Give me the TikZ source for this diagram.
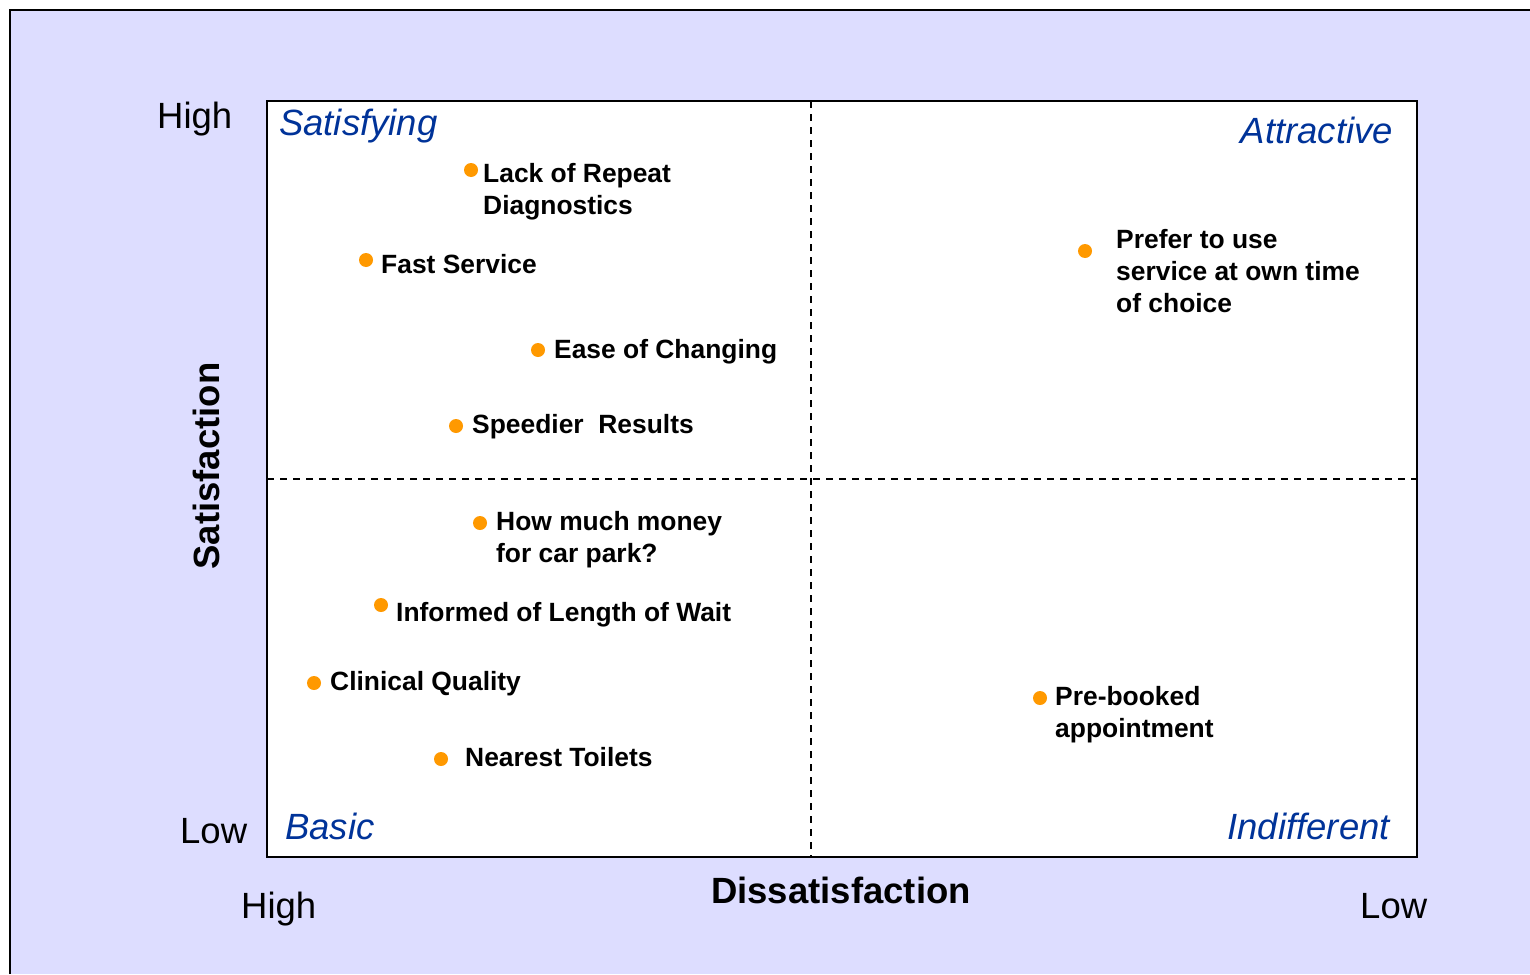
\documentclass[tikz,border=0pt]{standalone}
\usepackage{fontspec}
\setmainfont{Liberation Sans}
\definecolor{lav}{RGB}{221,221,255}
\definecolor{qblue}{RGB}{0,51,153}
\definecolor{dotor}{RGB}{255,153,0}
\begin{document}
\begin{tikzpicture}[x=1pt,y=-1pt,
  item/.style={anchor=base west,inner sep=0pt,align=left,font=\fontsize{26.4}{32}\selectfont\bfseries},
  dot/.style={circle,fill=dotor,minimum size=14pt,inner sep=0pt},
  quad/.style={inner sep=0pt,text=qblue,font=\fontsize{36.5}{40}\selectfont\itshape},
  axlbl/.style={inner sep=0pt,font=\fontsize{36.5}{40}\selectfont},
  axtitle/.style={inner sep=0pt,font=\fontsize{36.5}{40}\selectfont\bfseries},
  divider/.style={line width=1.5pt,dash pattern=on 7pt off 6pt}]
\useasboundingbox (0,0) rectangle (1530,974);
\fill[white] (0,0) rectangle (1530,974);
\fill[lav] (10,10) rectangle (1530,974);
\draw[line width=2pt] (10,974) -- (10,10) -- (1530,10);
% main box
\draw[line width=2pt,fill=white] (267,101) rectangle (1417,857);
\coordinate (vt) at (811,101);
\coordinate (vb) at (811,857);
\coordinate (hl) at (267,479);
\coordinate (hr) at (1417,479);
\draw[divider] (vt) -- (vb);
\draw[divider] (hl) -- (hr);
% quadrant titles
\node[quad,anchor=base west] (qs) at (279,135) {Satisfying};
\node[quad,anchor=base east] (qa) at (1393,143) {Attractive};
\node[quad,anchor=base west] (qb) at (285,839) {Basic};
\node[quad,anchor=base east] (qi) at (1390,839) {Indifferent};
% axis labels
\node[axlbl,anchor=base west] (yh) at (157,128) {High};
\node[axlbl,anchor=base west] (yl) at (180,843) {Low};
\node[axlbl,anchor=base west] (xh) at (241,918) {High};
\node[axlbl,anchor=base west] (xl) at (1360,918) {Low};
\node[axtitle,anchor=base] (xt) at (841,903) {Dissatisfaction};
\node[axtitle,anchor=base,rotate=90] (yt) at (219,466) {Satisfaction};
% items (multi-line nodes are placed by the baseline of their last line)
\node[dot] (d1) at (471,170) {};
\node[item] (t1) at (483,214) {Lack of Repeat\\Diagnostics};
\node[dot] (d2) at (366,260) {};
\node[item] (t2) at (381,273) {Fast Service};
\node[dot] (d3) at (538,350) {};
\node[item] (t3) at (554,358) {Ease of Changing};
\node[dot] (d4) at (456,426) {};
\node[item] (t4) at (472,433) {Speedier\ \ Results};
\node[dot] (d5) at (480,523) {};
\node[item] (t5) at (496,562) {How much money\\for car park?};
\node[dot] (d6) at (381,605) {};
\node[item] (t6) at (396,621) {Informed of Length of Wait};
\node[dot] (d7) at (314,683) {};
\node[item] (t7) at (330,690) {Clinical Quality};
\node[dot] (d8) at (441,759) {};
\node[item] (t8) at (465,766) {Nearest Toilets};
\node[dot] (d9) at (1085,251) {};
\node[item] (t9) at (1116,312) {Prefer to use\\service at own time\\of choice};
\node[dot] (d10) at (1040,698) {};
\node[item] (t10) at (1055,737) {Pre-booked\\appointment};
\end{tikzpicture}
\end{document}
